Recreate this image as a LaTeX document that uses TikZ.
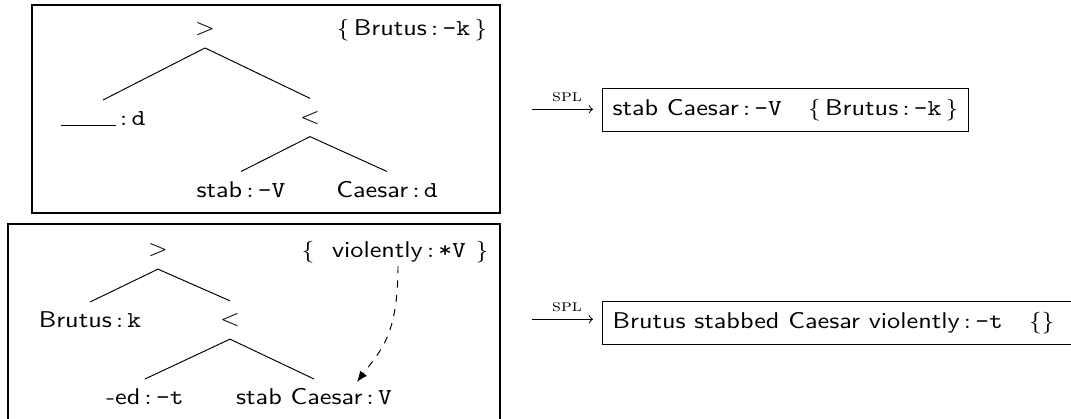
\documentclass[tikz,border=0pt]{standalone}
\usepackage{fontspec}
\usetikzlibrary{arrows.meta,calc}
\newcommand{\ft}[2]{#1$\,{:}\,$\texttt{#2}}
\tikzset{
  txt/.style={xscale=1.15, transform shape, font=\fontsize{9.5}{11}\selectfont\sffamily},
  leafnode/.style={txt, text height=6.6pt, text depth=0pt, inner xsep=0pt, inner ysep=4pt},
  opnode/.style={txt, text height=4.75pt, text depth=0pt, inner xsep=0pt, inner ysep=5.4pt},
  setnode/.style={txt, text height=6.6pt, text depth=0pt, inner sep=0pt},
  resbox/.style={txt, draw, line width=0.45pt, text height=7.2pt, text depth=2.4pt, inner ysep=4.15pt, inner xsep=3.6pt, anchor=west},
  branch/.style={line width=0.4pt},
  frame/.style={line width=0.5pt},
  splarrow/.style={-to, line width=0.4pt},
  spllabel/.style={xscale=1.15, transform shape, font=\scriptsize, inner sep=1pt, above=1.8pt},
  movearrow/.style={dashed, -{Latex[length=4.5pt,width=3.6pt]}}
}
\begin{document}
\begin{tikzpicture}[x=0.41667pt, y=-0.41667pt]
\useasboundingbox (0,0) rectangle (1071,419);
\clip (0,0) rectangle (1071,419);
% frames
\draw[frame] (32,5) rectangle (500,213);
\draw[frame] (8,224) rectangle (500,430);
% top tree
\node[opnode] (g1) at (205,28.8) {$>$};
\node[leafnode] (l1) at (103,118) {\rule{20pt}{0.4pt}$\,{:}\,$\texttt{d}};
\node[opnode] (g2) at (310,117.5) {$<$};
\node[leafnode] (l2) at (241,189.5) {\ft{stab}{-V}};
\node[leafnode] (l3) at (387,189.5) {\ft{Caesar}{d}};
\node[setnode] (s1) at (412,28) {$\{\,$\ft{Brutus}{-k}$\,\}$};
\draw[branch] (g1.south) -- (l1.north);
\draw[branch] (g1.south) -- (g2.north);
\draw[branch] (g2.south) -- (l2.north);
\draw[branch] (g2.south) -- (l3.north);
% bottom tree
\node[opnode] (h1) at (158,250) {$>$};
\node[leafnode] (m1) at (90,320) {\ft{Brutus}{k}};
\node[opnode] (h2) at (230,320) {$<$};
\node[leafnode] (m2) at (145,397) {\ft{-ed}{-t}};
\node[leafnode] (m3) at (314,397) {\ft{stab Caesar}{V}};
\node[setnode] (lb) at (308,250) {$\{$};
\node[setnode] (vl) at (399,250) {\ft{violently}{*V}};
\node[setnode] (rb) at (482,250) {$\}$};
\draw[branch] (h1.south) -- (m1.north);
\draw[branch] (h1.south) -- (h2.north);
\draw[branch] (h2.south) -- (m2.north);
\draw[branch] (h2.south) -- (m3.north);
\coordinate (vs) at (398,266);
\coordinate (tip) at (357,382);
\draw[movearrow] (vs) .. controls (398,335) and (381,350) .. (tip);
% results
\node[resbox] (r1) at (602,109.7) {stab Caesar$\,{:}\,$\texttt{-V}\quad$\{\,$\ft{Brutus}{-k}$\,\}$};
\node[resbox, text width=175pt, align=left] (r2) at (602,323) {Brutus stabbed Caesar violently$\,{:}\,$\texttt{-t}\quad$\{\}$};
\coordinate (a1) at (532,109.3);
\coordinate (a2) at (532,319.3);
\draw[splarrow, shorten >=3.75pt] (a1) -- (a1 -| r1.west) node[spllabel, midway] {\textsc{spl}};
\draw[splarrow, shorten >=3.75pt] (a2) -- (a2 -| r2.west) node[spllabel, midway] {\textsc{spl}};
\end{tikzpicture}
\end{document}
